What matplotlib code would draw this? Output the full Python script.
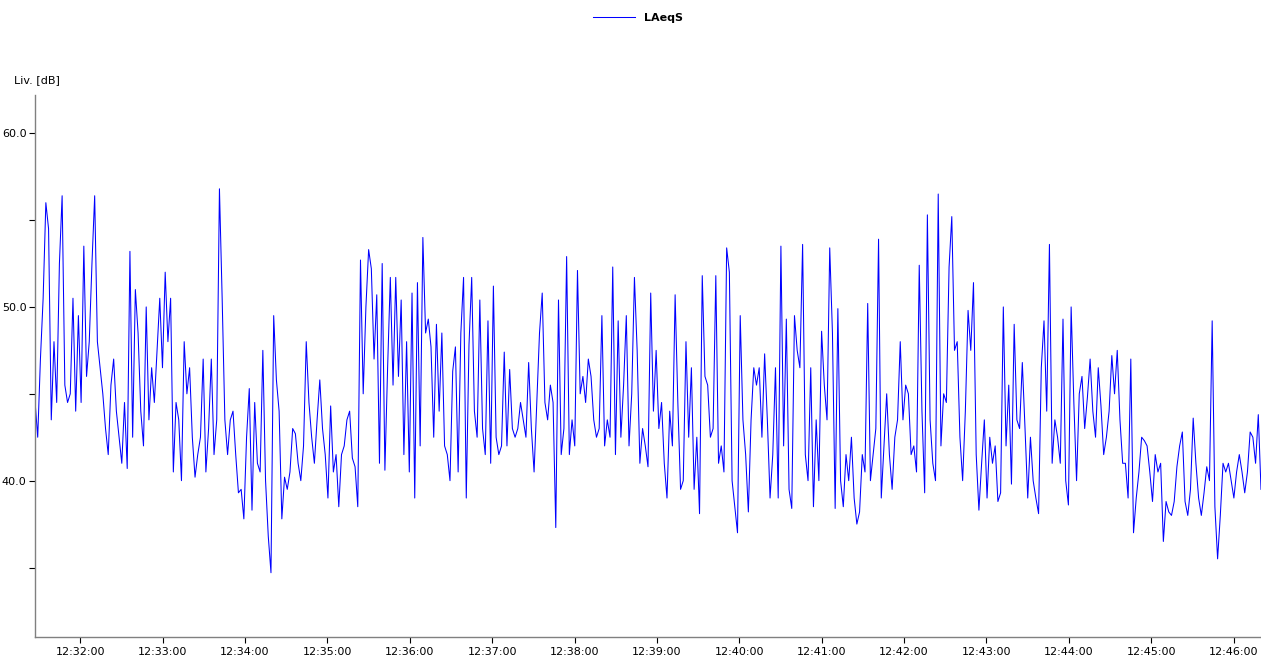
import numpy as np
import pandas as pd
import matplotlib
matplotlib.use('Agg')
import matplotlib.pyplot as plt
import matplotlib.dates as mdates
from matplotlib.ticker import MultipleLocator, FormatStrFormatter

# LAeqS samples, about one every 2 s
seg1 = [44.6, 42.5, 47.0, 50.5, 56.0, 54.5, 43.5, 48.0, 44.5, 52.5, 56.4, 45.5, 44.5, 45.0, 50.5, 44.0, 49.5, 44.5, 53.5,
        46.0, 48.0, 52.5, 56.4, 48.0, 46.5, 45.0, 43.0, 41.5, 45.5, 47.0, 44.0, 42.5, 41.0, 44.5, 40.7, 53.2, 42.5, 51.0]
seg2 = [48.5, 44.0, 42.0, 50.0, 43.5, 46.5, 44.5, 47.5, 50.5, 46.5, 52.0, 48.0, 50.5, 40.5, 44.5, 43.5, 40.0, 48.0, 45.0,
        46.5, 42.5, 40.2, 41.5, 42.5, 47.0, 40.5, 43.0, 47.0, 41.5, 43.5, 56.8, 50.5, 43.5, 41.5, 43.5, 44.0, 41.5, 39.3]
seg3 = [39.5, 37.8, 42.5, 45.3, 38.3, 44.5, 41.0, 40.5, 47.5, 40.0, 36.8, 34.7, 49.5, 45.8, 44.0, 37.8, 40.2, 39.5, 40.5,
        43.0, 42.7, 41.0, 40.0, 42.0, 48.0, 44.5, 42.5, 41.0, 43.5, 45.8, 43.0, 41.5, 39.0, 44.3, 40.5, 41.5, 38.5, 41.5]
seg4 = [42.0, 43.5, 44.0, 41.3, 40.8, 38.5, 52.7, 45.0, 50.0, 53.3, 52.2, 47.0, 50.7, 41.0, 52.5, 40.6, 46.5, 51.7, 45.5,
        51.7, 46.0, 50.4, 41.5, 48.0, 40.5, 50.8, 39.0, 51.4, 42.0, 54.0, 48.5, 49.3, 47.7, 42.5, 49.0, 44.0, 48.5, 42.0]
seg5 = [41.5, 40.0, 46.3, 47.7, 40.5, 48.5, 51.7, 39.0, 47.8, 51.7, 44.0, 42.5, 50.4, 43.0, 41.5, 49.2, 41.0, 51.2, 42.5,
        41.5, 42.0, 47.4, 42.0, 46.4, 43.0, 42.5, 43.0, 44.5, 43.5, 42.5, 46.8, 43.0, 40.5, 44.5, 48.5, 50.8, 44.5, 43.5]
seg6 = [45.5, 44.5, 37.3, 50.4, 41.5, 43.0, 52.9, 41.5, 43.5, 42.0, 52.1, 45.0, 46.0, 44.5, 47.0, 46.0, 43.5, 42.5, 43.0,
        49.5, 42.0, 43.5, 42.5, 52.3, 41.5, 49.2, 42.5, 45.5, 49.5, 42.0, 45.0, 51.7, 47.5, 41.0, 43.0, 42.0, 40.8, 50.8]
seg7 = [44.0, 47.5, 43.0, 44.5, 41.0, 39.0, 44.0, 42.0, 50.7, 44.5, 39.5, 40.0, 48.0, 42.5, 46.5, 39.5, 42.5, 38.1, 51.8,
        46.0, 45.5, 42.5, 43.0, 51.8, 41.0, 42.0, 40.5, 53.4, 52.0, 40.0, 38.5, 37.0, 49.5, 43.5, 41.5, 38.2, 43.5, 46.5]
seg8 = [45.5, 46.5, 42.5, 47.3, 43.5, 39.0, 41.5, 46.5, 39.0, 53.5, 42.0, 49.3, 39.5, 38.4, 49.5, 47.5, 46.5, 53.6, 41.5,
        40.0, 46.5, 38.5, 43.5, 40.0, 48.6, 45.5, 43.5, 53.4, 48.5, 38.4, 49.9, 40.0, 38.5, 41.5, 40.0, 42.5, 39.0, 37.5]
seg9 = [38.2, 41.5, 40.5, 50.2, 40.0, 41.5, 43.0, 53.9, 39.0, 42.0, 45.0, 41.5, 39.5, 42.5, 43.5, 48.0, 43.5, 45.5, 45.0,
        41.5, 42.0, 40.5, 52.4, 44.0, 39.3, 55.3, 43.5, 41.0, 40.0, 56.5, 42.0, 45.0, 44.5, 52.3, 55.2, 47.5, 48.0, 42.5]
seg10 = [40.0, 44.0, 49.8, 47.5, 51.4, 41.5, 38.3, 41.0, 43.5, 39.0, 42.5, 41.0, 42.0, 38.8, 39.3, 50.0, 42.0, 45.5, 39.8,
         49.0, 43.5, 43.0, 46.8, 43.0, 39.0, 42.5, 40.0, 39.0, 38.1, 46.5, 49.2, 44.0, 53.6, 41.0, 43.5, 42.5, 41.0, 49.3]
seg11 = [40.0, 38.6, 50.0, 44.5, 40.0, 45.0, 46.0, 43.0, 44.8, 47.0, 44.0, 42.5, 46.5, 44.3, 41.5, 42.5, 44.0, 47.2, 45.0,
         47.5, 43.5, 41.0, 41.0, 39.0, 47.0, 37.0, 39.0, 40.5, 42.5, 42.3, 42.0, 40.5, 38.8, 41.5, 40.5, 41.0, 36.5, 38.8]
seg12 = [38.2, 38.0, 38.8, 40.8, 42.0, 42.8, 38.8, 38.0, 39.5, 43.6, 41.0, 39.0, 38.0, 39.3, 40.8, 40.0, 49.2, 38.5,
         35.5, 38.0, 41.0, 40.5, 41.0, 40.0, 39.0, 40.5, 41.5, 40.5, 39.3, 40.5, 42.8, 42.5, 41.0, 43.8, 39.5]

laeq = seg1 + seg2 + seg3 + seg4 + seg5 + seg6 + seg7 + seg8 + seg9 + seg10 + seg11 + seg12
t_start = '2024-01-01 12:31:27'
t_end = '2024-01-01 12:46:20'

times = pd.date_range(t_start, t_end, periods=len(laeq))

fig = plt.figure(figsize=(12.61, 6.61), dpi=100)
ax = fig.add_axes([35 / 1261, 24 / 661, 1226 / 1261, 542 / 661])

ax.plot(times, laeq, color='#0000ff', lw=0.75, label='LAeqS')

ax.set_xlim(pd.Timestamp(t_start), pd.Timestamp(t_end))
ax.set_ylim(31.0, 62.2)

ax.yaxis.set_major_locator(MultipleLocator(10))
ax.yaxis.set_minor_locator(MultipleLocator(5))
ax.yaxis.set_major_formatter(FormatStrFormatter('%.1f'))
ax.xaxis.set_major_locator(mdates.MinuteLocator())
ax.xaxis.set_major_formatter(mdates.DateFormatter('%H:%M:%S'))

for s in ['top', 'right']:
    ax.spines[s].set_visible(False)
for s in ['left', 'bottom']:
    ax.spines[s].set_color('#808080')
    ax.spines[s].set_linewidth(1)

ax.tick_params(axis='both', which='both', labelsize=8, colors='#000000', length=4, width=0.8, pad=2)
ax.tick_params(axis='y', which='minor', length=4)
ax.tick_params(axis='x', pad=3)

fig.text(14 / 1261, 1 - 80 / 661, 'Liv. [dB]', fontsize=8, va='center', ha='left')

leg = fig.legend(loc='center', bbox_to_anchor=(638 / 1261, 1 - 18 / 661), frameon=False,
                 handlelength=3.8, prop={'size': 8, 'weight': 'bold'})

fig.savefig('out.png', dpi=100)
